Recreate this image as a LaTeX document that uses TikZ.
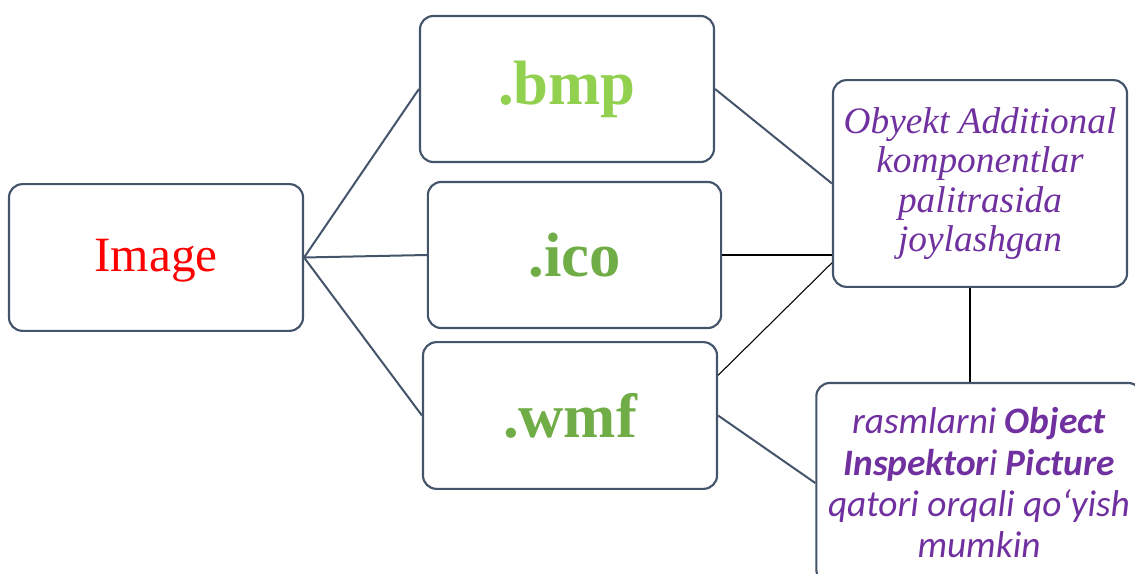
\documentclass[tikz,border=0pt]{standalone}
\usepackage{fontspec}
\setmainfont{Liberation Serif}
\newfontfamily\carlito{Carlito}
\usetikzlibrary{calc}
\definecolor{edgeslate}{HTML}{44546A}
\definecolor{lightgreen}{HTML}{92D050}
\definecolor{midgreen}{HTML}{70AD47}
\definecolor{violet}{HTML}{7030A0}
\tikzset{
  card/.style={draw=edgeslate, line width=1.6pt, rounded corners=10pt, fill=white,
    inner sep=0pt, align=center},
  link/.style={draw=edgeslate, line width=1.5pt},
  thin/.style={draw=black, line width=0.8pt},
  ext/.style={font=\fontsize{47}{50}\selectfont\bfseries}
}
\begin{document}
\begin{tikzpicture}[x=0.75pt,y=-0.75pt]
\useasboundingbox (0,0) rectangle (1135,574);
\clip (0,0) rectangle (1135,574);

% boxes
\node[card, minimum width=220.5pt, minimum height=110pt] (img) at (156,257.5) {};
\node[font=\fontsize{37}{40}\selectfont, text=red] at ($(img.center)+(0,3)$) {Image};
\node[card, minimum width=220.5pt, minimum height=109.5pt, ext, text=lightgreen] (bmp) at (567,89) {.bmp};
\node[card, minimum width=220pt, minimum height=109.5pt, ext, text=midgreen] (ico) at (574.5,255) {.ico};
\node[card, minimum width=220.5pt, minimum height=110pt, ext, text=midgreen] (wmf) at (570,415.5) {.wmf};
\node[card, minimum width=220.5pt, minimum height=155pt,
  font=\fontsize{28}{29.5}\selectfont\itshape, text=violet] (rt) at (980,183.5)
  {Obyekt Additional\\komponentlar\\palitrasida\\joylashgan};
\node[card, minimum width=244pt, minimum height=150pt,
  font=\carlito\fontsize{28}{31}\selectfont\itshape, text=violet] (rb) at (979,483)
  {rasmlarni \textbf{Object}\\\textbf{Inspektor}i \textbf{Picture}\\qatori orqali qo‘yish\\mumkin};

% connectors
\draw[link] (img.east) -- (bmp.west);
\draw[link] (img.east) -- (ico.west);
\draw[link] (img.east) -- (wmf.west);
\draw[link] (bmp.east) -- (rt.west);
\draw[thin] (ico.east) -- (rt.west |- ico.east);
\draw[thin] ($(wmf.north east)!0.23!(wmf.south east)$) -- ($(rt.north west)!0.88!(rt.south west)$);
\draw[link] (wmf.east) -- (rb.west);
\coordinate (drop) at ($(rt.south)+(-10,0)$);
\draw[black, line width=1.5pt] (drop) -- (drop |- rb.north);
\end{tikzpicture}
\end{document}
